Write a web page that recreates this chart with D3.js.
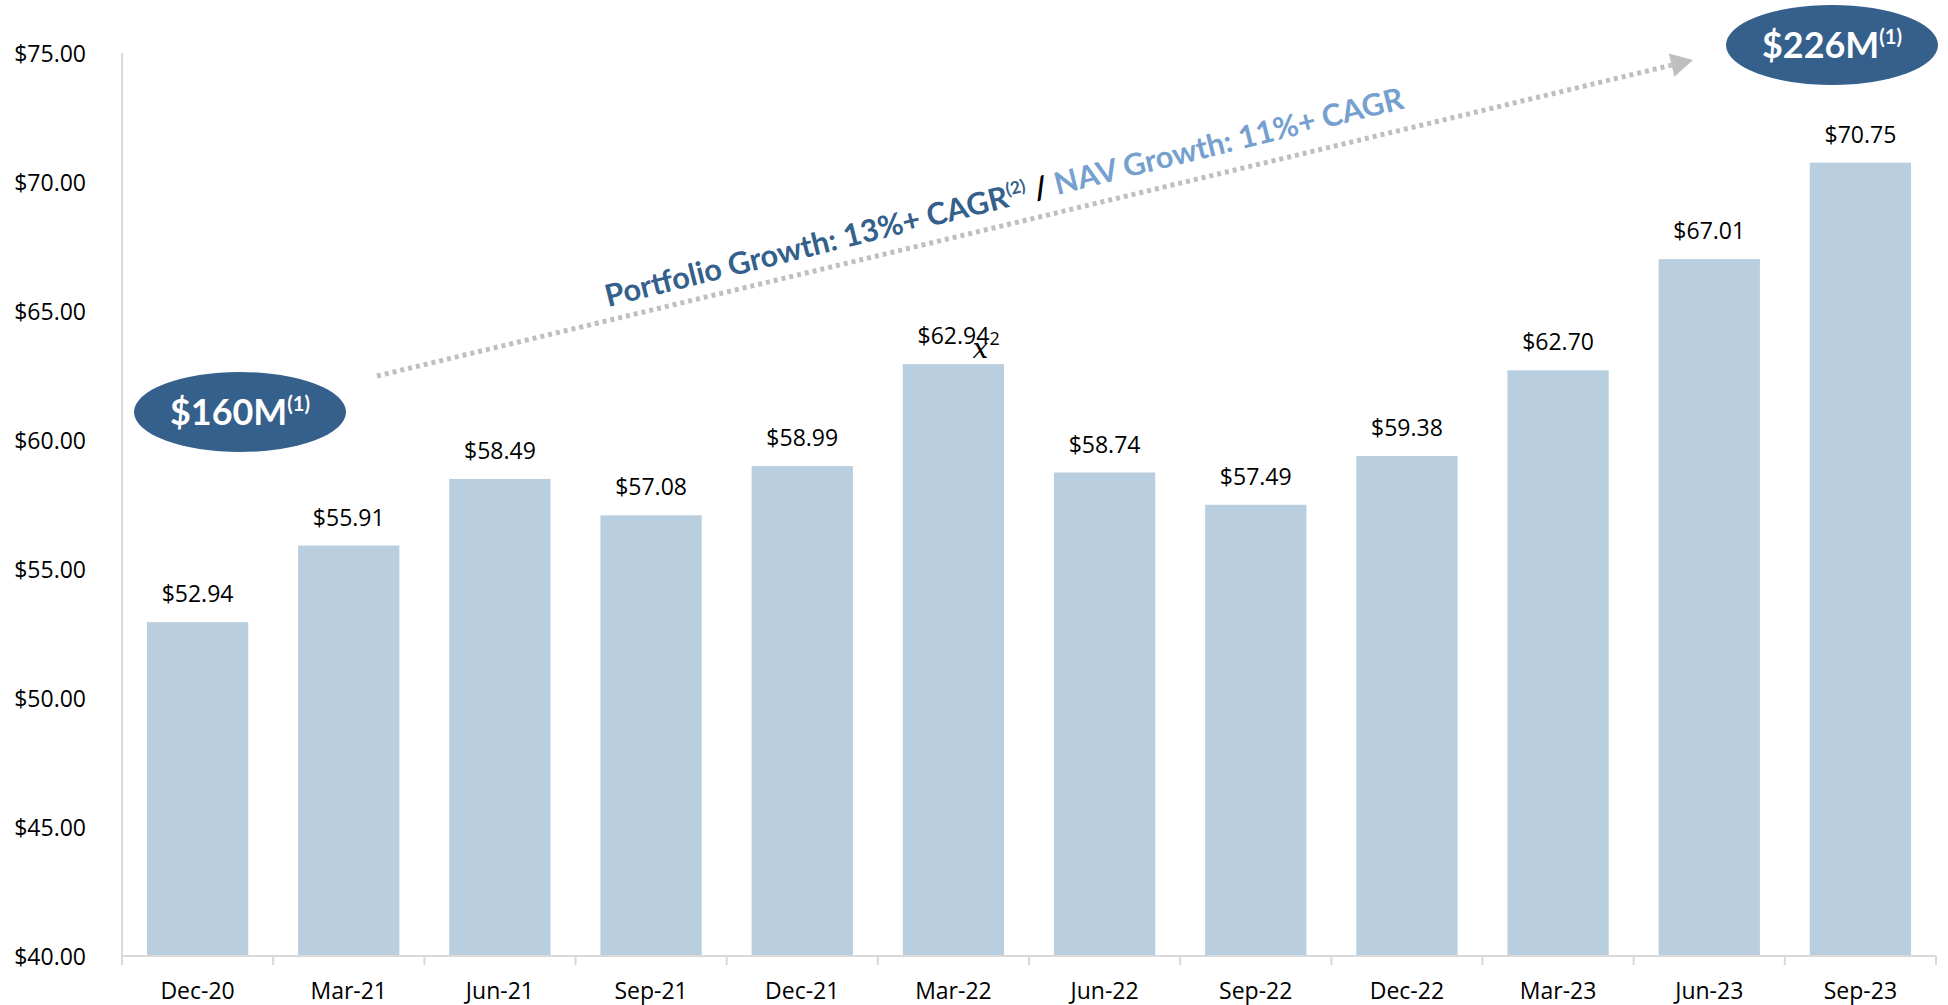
<!DOCTYPE html>
<html><head><meta charset="utf-8">
<script src="https://cdn.jsdelivr.net/npm/d3@7"></script>
<style>
html,body{margin:0;padding:0;background:#fff;}
svg{display:block;}
</style></head>
<body>
<svg id="chart" width="1948" height="1005"></svg>
<script>
const categories = ["Dec-20","Mar-21","Jun-21","Sep-21","Dec-21","Mar-22","Jun-22","Sep-22","Dec-22","Mar-23","Jun-23","Sep-23"];
const values = [52.94,55.91,58.49,57.08,58.99,62.94,58.74,57.49,59.38,62.70,67.01,70.75];
const yTicks = [40,45,50,55,60,65,70,75];
const startLabel = "$160M";
const endLabel = "$226M";
const portfolioText = "Portfolio Growth: 13%+ CAGR";
const navText = "NAV Growth: 11%+ CAGR";

(function(){
const svg = d3.select("#chart");
const pLeft = 122, pRight = 1936, pTop = 53, pBottom = 956;

const x = d3.scaleBand().domain(categories).range([pLeft, pRight]).paddingInner(0.33).paddingOuter(0.165);
const y = d3.scaleLinear().domain([40, 75]).range([pBottom, pTop]);

const axisColor = "#D9D9D9";
const font = "'Open Sans', sans-serif";

// bars
svg.append("g").selectAll("rect").data(values).join("rect")
  .attr("x", (d,i) => x(categories[i]))
  .attr("y", d => y(d))
  .attr("width", x.bandwidth())
  .attr("height", d => y(40) - y(d))
  .attr("fill", "#B9CEDF");

// y axis line
svg.append("line").attr("x1", pLeft).attr("x2", pLeft).attr("y1", pTop).attr("y2", pBottom + 9)
  .attr("stroke", axisColor).attr("stroke-width", 2);
// x axis
const step = x.step();
svg.append("line").attr("x1", pLeft).attr("x2", pRight).attr("y1", pBottom).attr("y2", pBottom)
  .attr("stroke", axisColor).attr("stroke-width", 2);
const boundaries = d3.range(categories.length + 1).map(i => pLeft + i * step);
svg.append("g").selectAll("line").data(boundaries).join("line")
  .attr("x1", d => d).attr("x2", d => d).attr("y1", pBottom).attr("y2", pBottom + 9)
  .attr("stroke", axisColor).attr("stroke-width", 2);

// y tick labels
svg.append("g").selectAll("text").data(yTicks).join("text")
  .attr("x", 86).attr("y", d => y(d))
  .attr("text-anchor", "end").attr("dominant-baseline", "central")
  .attr("font-family", font).attr("font-size", 23).attr("fill", "#000")
  .text(d => "$" + d3.format(".2f")(d));

// x labels
svg.append("g").selectAll("text").data(categories).join("text")
  .attr("x", d => x(d) + x.bandwidth()/2).attr("y", 999)
  .attr("text-anchor", "middle")
  .attr("font-family", font).attr("font-size", 23).attr("fill", "#000")
  .text(d => d);

// value labels
svg.append("g").selectAll("text").data(values).join("text")
  .attr("x", (d,i) => x(categories[i]) + x.bandwidth()/2)
  .attr("y", d => y(d) - 20)
  .attr("text-anchor", "middle")
  .attr("font-family", font).attr("font-size", 23).attr("fill", "#000")
  .text(d => "$" + d3.format(".2f")(d));

// stray equation artifact on Mar-22 label
{
  const i = categories.indexOf("Mar-22");
  const cx = x(categories[i]) + x.bandwidth()/2;
  const by = y(values[i]) - 20;
  svg.append("text").attr("x", cx + 36).attr("y", by + 1)
    .attr("font-family", font).attr("font-size", 18).attr("fill", "#000").text("2");
  svg.append("text").attr("x", cx + 27).attr("y", by + 14).attr("text-anchor", "middle")
    .attr("font-family", "'DejaVu Serif', serif").attr("font-style", "italic")
    .attr("font-size", 28).attr("fill", "#000").text("x");
}

// dotted arrow
const a0 = [377, 376], a1 = [1693, 60];
const ang = Math.atan2(a1[1]-a0[1], a1[0]-a0[0]);
const headLen = 22, headW = 12;
const base = [a1[0] - headLen*Math.cos(ang), a1[1] - headLen*Math.sin(ang)];
svg.append("line").attr("x1", a0[0]).attr("y1", a0[1]).attr("x2", base[0]).attr("y2", base[1])
  .attr("stroke", "#BFBFBF").attr("stroke-width", 5).attr("stroke-dasharray", "4 4");
const px = -Math.sin(ang), py = Math.cos(ang);
svg.append("polygon").attr("points", [
  a1, [base[0] + headW*px, base[1] + headW*py], [base[0] - headW*px, base[1] - headW*py]
].map(p => p.join(",")).join(" ")).attr("fill", "#BFBFBF");

// rotated annotation text
const annFont = "Lato, 'Open Sans', sans-serif";
const tg = svg.append("g").attr("transform", "translate(608,307) rotate(-14)");
const t = tg.append("text").attr("font-family", annFont).attr("font-weight", "bold").attr("font-size", 30);
const t1 = t.append("tspan").attr("fill", "#34608C").text(portfolioText);
const t2 = t.append("tspan").attr("fill", "#34608C").attr("font-size", 17).attr("dy", -11).text("(2)");
const t3 = t.append("tspan").attr("fill", "#000").attr("dy", 11).text(" / ");
const t4 = t.append("tspan").attr("fill", "#76A0CE").text(navText);
{
  const len = t.node().getComputedTextLength();
  const s = 822 / len;
  t.attr("font-size", 30 * s);
  t2.attr("font-size", 17 * s).attr("dy", -11 * s);
  t3.attr("dy", 11 * s);
}

// ellipses
function bubble(cx, cy, label) {
  svg.append("ellipse").attr("cx", cx).attr("cy", cy).attr("rx", 106).attr("ry", 40).attr("fill", "#35608B");
  const tt = svg.append("text").attr("x", cx).attr("y", cy + 13).attr("text-anchor", "middle")
    .attr("font-family", annFont).attr("font-weight", "bold").attr("font-size", 34).attr("fill", "#fff");
  tt.append("tspan").text(label);
  const sup = tt.append("tspan").attr("font-size", 19).attr("dy", -13).text("(1)");
  const len = tt.node().getComputedTextLength();
  const s = 140 / len;
  tt.attr("font-size", 34 * s);
  sup.attr("font-size", 19 * s).attr("dy", -13 * s);
}
bubble(240, 412, startLabel);
bubble(1832, 45, endLabel);
})();
</script>
</body></html>
